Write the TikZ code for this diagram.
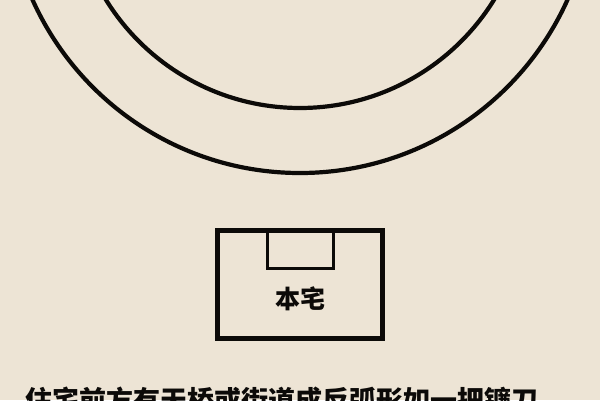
\documentclass[tikz,border=0pt]{standalone}
\usepackage{fontspec}
\newfontfamily\cjk{Noto Sans CJK SC}
\usetikzlibrary{positioning}
\definecolor{paper}{RGB}{237,228,213}
\definecolor{ink}{RGB}{12,10,8}

\begin{document}
\begin{tikzpicture}[x=1pt, y=-1pt,
  ring/.style = {draw=ink, line width=4.2pt},
  wall/.style = {draw=ink, line width=5pt, minimum width=165pt, minimum height=108pt, inner sep=0pt},
  porch/.style = {draw=ink, line width=3pt, minimum width=66pt, minimum height=39pt, inner sep=0pt},
  caption/.style = {text=ink, inner sep=0pt, font=\cjk\bfseries\fontsize{25pt}{25pt}\selectfont},
  note/.style = {text=ink, inner sep=0pt, font=\cjk\bfseries\fontsize{27pt}{27pt}\selectfont}]
\useasboundingbox (0,0) rectangle (600,400);
\fill[paper] (0,0) rectangle (600,400);
\clip (0,0) rectangle (600,400);

\coordinate (c) at (300,-120);
\draw[ring] (c) circle [radius=228pt];
\draw[ring] (c) circle [radius=293pt];

\node[wall] (house) at (300,284) {};
\node[porch, anchor=north] (door) at (house.north) {};
\node[caption] (name) at (300,299) {本宅};

\node[note, anchor=base west] (text) at (25,410) {住宅前方有天桥或街道成反弧形如一把镰刀};
\end{tikzpicture}
\end{document}
